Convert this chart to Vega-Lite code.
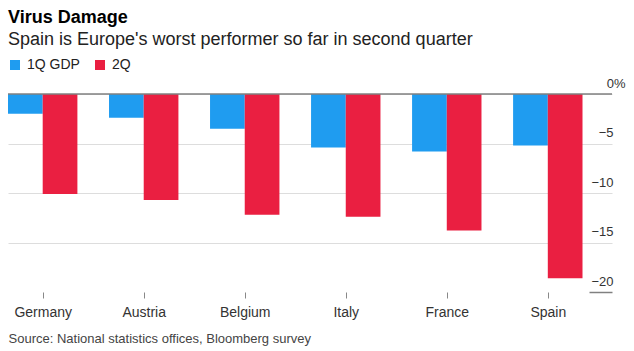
{
  "$schema": "https://vega.github.io/schema/vega-lite/v6.json",
  "width": 604,
  "height": 198,
  "autosize": {"type": "none"},
  "padding": {"left": 8, "top": 94, "right": 22, "bottom": 59},
  "background": "white",
  "config": {
    "view": {"stroke": null},
    "font": "Liberation Sans"
  },
  "title": {
    "text": "Virus Damage",
    "subtitle": "Spain is Europe's worst performer so far in second quarter",
    "anchor": "start",
    "frame": "group",
    "fontSize": 18,
    "fontWeight": "bold",
    "color": "#000000",
    "subtitleFontSize": 18,
    "subtitleColor": "#222222",
    "subtitlePadding": 4,
    "offset": 9
  },
  "data": {
    "values": [
      {"country": "Germany", "series": "1Q GDP", "value": -2.0},
      {"country": "Germany", "series": "2Q", "value": -10.1},
      {"country": "Austria", "series": "1Q GDP", "value": -2.4},
      {"country": "Austria", "series": "2Q", "value": -10.7},
      {"country": "Belgium", "series": "1Q GDP", "value": -3.5},
      {"country": "Belgium", "series": "2Q", "value": -12.2},
      {"country": "Italy", "series": "1Q GDP", "value": -5.4},
      {"country": "Italy", "series": "2Q", "value": -12.4},
      {"country": "France", "series": "1Q GDP", "value": -5.8},
      {"country": "France", "series": "2Q", "value": -13.8},
      {"country": "Spain", "series": "1Q GDP", "value": -5.2},
      {"country": "Spain", "series": "2Q", "value": -18.6}
    ]
  },
  "layer": [
    {
      "mark": {"type": "bar"},
      "encoding": {
        "x": {
          "field": "country",
          "type": "nominal",
          "sort": ["Germany", "Austria", "Belgium", "Italy", "France", "Spain"],
          "scale": {"paddingInner": 0.313, "paddingOuter": 0.146, "align": 0},
          "axis": {
            "title": "Source: National statistics offices, Bloomberg survey",
            "titleFontSize": 13,
            "titleFontWeight": "normal",
            "titleColor": "#444444",
            "titleAnchor": "start",
            "titleAlign": "left",
            "titleBaseline": "alphabetic",
            "titleX": 0,
            "titleY": 50,
            "domain": false,
            "ticks": true,
            "tickColor": "#888888",
            "tickSize": 6,
            "tickWidth": 1,
            "tickOffset": 0,
            "labelAngle": 0,
            "labelFontSize": 14,
            "labelColor": "#333333",
            "labelPadding": 7,
            "grid": false
          }
        },
        "xOffset": {
          "field": "series",
          "type": "nominal",
          "sort": ["1Q GDP", "2Q"],
          "scale": {"paddingInner": 0, "paddingOuter": 0}
        },
        "y": {
          "field": "value",
          "type": "quantitative",
          "scale": {"domain": [-20, 0], "nice": false},
          "axis": {
            "orient": "right",
            "title": null,
            "values": [0, -5, -10, -15, -20],
            "domain": false,
            "grid": true,
            "gridColor": {"condition": {"test": "datum.value == -20", "value": "transparent"}, "value": "#dddddd"},
            "gridWidth": 1,
            "ticks": true,
            "tickSize": -23,
            "tickWidth": 1.5,
            "tickColor": {"condition": {"test": "datum.value == -20", "value": "#808080"}, "value": "transparent"},
            "labelAlign": "right",
            "labelBaseline": "alphabetic",
            "labelOffset": -7,
            "labelPadding": {"condition": {"test": "datum.value == 0", "value": 36}, "value": 24},
            "labelFontSize": 13,
            "labelColor": "#333333",
            "labelExpr": "datum.value == 0 ? '0%' : datum.label"
          }
        },
        "color": {
          "field": "series",
          "type": "nominal",
          "sort": ["1Q GDP", "2Q"],
          "scale": {"domain": ["1Q GDP", "2Q"], "range": ["#1f9cf0", "#ea1f41"]},
          "legend": {
            "title": null,
            "orient": "none",
            "direction": "horizontal",
            "legendX": 0,
            "legendY": -36,
            "padding": 0,
            "symbolType": "square",
            "symbolSize": 100,
            "symbolStrokeWidth": 0,
            "symbolOpacity": 1,
            "labelFontSize": 14,
            "labelColor": "#222222",
            "labelOffset": 5,
            "columnPadding": 13
          }
        }
      }
    },
    {
      "data": {"values": [{"v": 0}]},
      "mark": {"type": "rule", "color": "#808080", "strokeWidth": 1.5},
      "encoding": {
        "y": {"field": "v", "type": "quantitative"}
      }
    }
  ]
}
